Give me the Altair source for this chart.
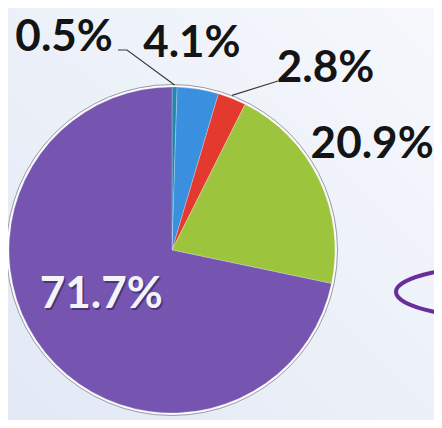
import altair as alt
import numpy as np
import pandas as pd

# ---- data ----
labels = ["0.5%", "4.1%", "2.8%", "20.9%", "71.7%"]
values = [0.5, 4.1, 2.8, 20.9, 71.7]
colors = ["#2a84ad", "#3a8fdf", "#e3392f", "#9cc43c", "#7655b1"]

# ---- layout constants ----
W, H = 426, 412
CX, CY, R = 164, 242, 163

vals = np.array(values)
end = np.cumsum(vals)
start = end - vals
mid = (start + end) / 2
df = pd.DataFrame({"label": labels, "value": values, "start": start, "end": end,
                   "mid": mid, "order": range(len(labels))})

theta_scale = alt.Scale(domain=[0, 100], range=[0, 2 * np.pi])
color_scale = alt.Scale(domain=labels, range=colors)

bg = alt.Chart(pd.DataFrame({"a": [0]})).mark_rect(
    fill=alt.LinearGradient(gradient="linear",
                            stops=[alt.GradientStop(color="#e2e9f5", offset=0),
                                   alt.GradientStop(color="#f6f8fc", offset=1)],
                            x1=0, y1=1, x2=1, y2=0)
).encode(x=alt.value(0), x2=alt.value(W), y=alt.value(0), y2=alt.value(H))

ellipse = alt.Chart(pd.DataFrame({"a": [0]})).mark_point(
    shape="M -1 0 A 1 0.22 0 1 0 1 0 A 1 0.22 0 1 0 -1 0",
    size=62500, filled=False, stroke="#6a2d9c", strokeWidth=4, opacity=1
).encode(x=alt.value(513), y=alt.value(284))

rim = alt.Chart(pd.DataFrame({"s": [0], "e": [100]})).mark_arc(
    radius=R + 2.5, fill="#fbfbfd", stroke="#9a9aa6", strokeWidth=1
).encode(theta=alt.Theta("s:Q", scale=theta_scale), theta2="e:Q",
         x=alt.value(CX), y=alt.value(CY))

slices = alt.Chart(df).mark_arc(radius=R, stroke="#ffffff", strokeWidth=0.4,
                                strokeOpacity=0.6).encode(
    theta=alt.Theta("start:Q", scale=theta_scale),
    theta2="end:Q",
    color=alt.Color("label:N", scale=color_scale, legend=None),
    x=alt.value(CX), y=alt.value(CY),
)

# leader lines: from label end to pie edge at slice midpoint
ang = mid / 100 * 2 * np.pi
ex = CX + R * np.sin(ang)
ey = CY - R * np.cos(ang)
lead = pd.DataFrame({
    "line": [0, 0, 0, 1, 1],
    "seq": [0, 1, 2, 0, 1],
    "px": [110, 119, ex[0], 270, ex[2]],
    "py": [42, 42, ey[0] - 2, 73, ey[2] - 3],
})
leaders = alt.Chart(lead).mark_line(color="#3a3a3a", strokeWidth=1.2).encode(
    x=alt.X("px:Q", scale=None, axis=None),
    y=alt.Y("py:Q", scale=None, axis=None),
    detail="line:N", order="seq:Q")

# label offsets (style): (radius, dx, dy)
offsets = {
    "0.5%": (200, -111, -12),
    "4.1%": (200, -12, -9),
    "2.8%": (200, 80, 5),
    "20.9%": (200, 20, -18),
    "71.7%": (100, 7, -18),
}
text_layers = []
for lab, (rad, dx, dy) in offsets.items():
    base = alt.Chart(df).transform_filter(alt.datum.label == lab)
    enc = dict(theta=alt.Theta("mid:Q", scale=theta_scale), text="label:N",
               x=alt.value(CX), y=alt.value(CY))
    if lab == "71.7%":
        text_layers.append(base.mark_text(radius=rad, dx=dx + 1.5, dy=dy + 1.5, font="Lato",
                                          fontWeight="bold", fontSize=44, color="#4a3478",
                                          baseline="middle", align="center").encode(**enc))
        text_layers.append(base.mark_text(radius=rad, dx=dx, dy=dy, font="Lato",
                                          fontWeight="bold", fontSize=44, color="#f4f4f8",
                                          baseline="middle", align="center").encode(**enc))
    else:
        text_layers.append(base.mark_text(radius=rad, dx=dx, dy=dy, font="Lato",
                                          fontWeight="bold", fontSize=44, color="#141414",
                                          baseline="middle", align="center").encode(**enc))

chart = alt.layer(bg, ellipse, rim, slices, leaders, *text_layers).properties(
    width=W, height=H, autosize="none", padding=0, background="#eaeff7"
).configure_view(stroke=None)

chart.save("out.html", embed_options={"renderer": "svg", "actions": False})
